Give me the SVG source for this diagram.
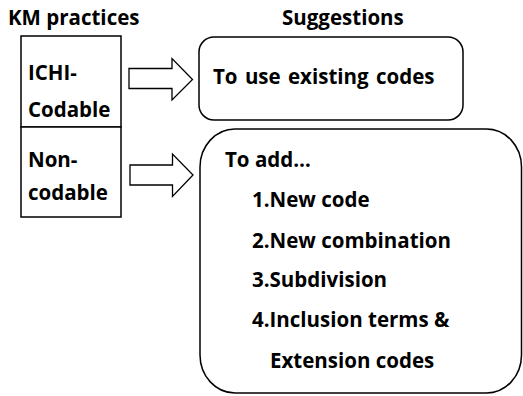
<svg xmlns="http://www.w3.org/2000/svg" width="523" height="396" viewBox="0 0 523 396">
  <style>
    text { font-family: "Open Sans", "Noto Sans", "Liberation Sans", sans-serif; font-weight: bold; fill: #000; }
    .hdr { font-size: 20.5px; }
    .lbl { font-size: 20.5px; }
    .box { fill: #fff; stroke: #000; stroke-width: 1.5; }
    .arrow { fill: #fff; stroke: #000; stroke-width: 1.3; stroke-linejoin: miter; }
  </style>
  <rect width="523" height="396" fill="#fff"/>

  <!-- column headings -->
  <text class="hdr" x="8" y="25">KM practices</text>
  <text class="hdr" x="282" y="25">Suggestions</text>

  <!-- practice categories -->
  <g id="codable">
    <rect class="box" x="21" y="36" width="100" height="91"/>
    <text class="lbl" x="28" y="80">ICHI-</text>
    <text class="lbl" x="28" y="117">Codable</text>
  </g>
  <g id="non-codable">
    <rect class="box" x="21" y="127" width="100" height="90"/>
    <text class="lbl" x="28" y="167">Non-</text>
    <text class="lbl" x="28" y="200">codable</text>
  </g>

  <!-- block arrows -->
  <g id="connectors">
    <path class="arrow" d="M129,68.5 H172 V58.5 L192.5,79.5 L172,100 V88.5 H129 Z"/>
    <path class="arrow" d="M130,165 H172.5 V154 L193,175 L172.5,196.5 V185 H130 Z"/>
  </g>

  <!-- suggestions -->
  <g id="use-existing">
    <rect class="box" x="199" y="37" width="264" height="83" rx="15" ry="15"/>
    <text class="lbl" x="213" y="84" word-spacing="2">To use existing codes</text>
  </g>
  <g id="to-add">
    <rect class="box" x="200" y="129" width="321.5" height="264" rx="35" ry="38"/>
    <text class="lbl" x="225" y="167">To add…</text>
    <text class="lbl" x="252" y="207">1.New code</text>
    <text class="lbl" x="252" y="248">2.New combination</text>
    <text class="lbl" x="252" y="287">3.Subdivision</text>
    <text class="lbl" x="252" y="327">4.Inclusion terms &amp;</text>
    <text class="lbl" x="270" y="368">Extension codes</text>
  </g>
</svg>
